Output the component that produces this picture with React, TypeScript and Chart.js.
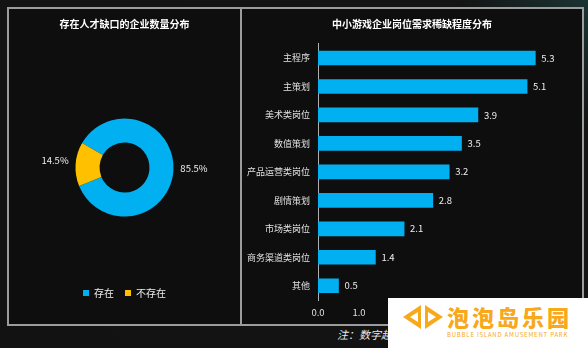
import React, { useEffect, useRef } from "react";
import { Chart, registerables } from "chart.js";

Chart.register(...registerables);

const FONT = '"Noto Sans CJK SC", "Noto Sans", sans-serif';

const leftTitle = "存在人才缺口的企业数量分布";
const pieLabels = ["存在", "不存在"];
const pieValues = [85.5, 14.5];
const pieColors = ["#00b0f0", "#ffc000"];

const rightTitle = "中小游戏企业岗位需求稀缺程度分布";
const barCategories = [
  "主程序",
  "主策划",
  "美术类岗位",
  "数值策划",
  "产品运营类岗位",
  "剧情策划",
  "市场类岗位",
  "商务渠道类岗位",
  "其他",
];
const barValues = [5.3, 5.1, 3.9, 3.5, 3.2, 2.8, 2.1, 1.4, 0.5];
const xTickMax = 6;
const barColor = "#00b0f0";

const noteText = "注：数字越大表示岗位越稀缺";
const brandName = "泡泡岛乐园";
const brandSub = "BUBBLE ISLAND AMUSEMENT PARK";

const pieLabelPlugin = {
  id: "pieLabels",
  afterDatasetsDraw(chart: any) {
    const ctx = chart.ctx;
    const meta = chart.getDatasetMeta(0);
    ctx.save();
    ctx.font = `9.5px ${FONT}`;
    ctx.fillStyle = "#eeeeee";
    ctx.textBaseline = "middle";
    meta.data.forEach((arc: any, i: number) => {
      const p = arc.getProps(["x", "y", "startAngle", "endAngle", "outerRadius"], true);
      const mid = (p.startAngle + p.endAngle) / 2;
      const r = p.outerRadius + 7;
      const lx = p.x + Math.cos(mid) * r;
      const ly = p.y + Math.sin(mid) * r;
      ctx.textAlign = Math.cos(mid) >= 0 ? "left" : "right";
      ctx.fillText(pieValues[i].toFixed(1) + "%", lx, ly - 3);
    });
    ctx.restore();
  },
};

const barLabelPlugin = {
  id: "barLabels",
  afterDatasetsDraw(chart: any) {
    const ctx = chart.ctx;
    const meta = chart.getDatasetMeta(0);
    ctx.save();
    ctx.font = `9.5px ${FONT}`;
    ctx.fillStyle = "#eeeeee";
    ctx.textBaseline = "middle";
    ctx.textAlign = "left";
    meta.data.forEach((bar: any, i: number) => {
      const p = bar.getProps(["x", "y"], true);
      ctx.fillText(barValues[i].toFixed(1), p.x + 6, p.y);
    });
    ctx.restore();
  },
};

const centerTitlePlugin = {
  id: "centerTitle",
  afterDraw(chart: any) {
    const ctx = chart.ctx;
    ctx.save();
    ctx.font = `bold 10px ${FONT}`;
    ctx.fillStyle = "#ffffff";
    ctx.textAlign = "center";
    ctx.textBaseline = "middle";
    ctx.fillText(rightTitle, chart.width / 2, 15);
    ctx.restore();
  },
};

function DonutChart() {
  const ref = useRef<HTMLCanvasElement>(null);
  useEffect(() => {
    if (!ref.current) return;
    const chart = new Chart(ref.current, {
      type: "doughnut",
      data: {
        labels: pieLabels,
        datasets: [
          {
            data: pieValues,
            backgroundColor: pieColors,
            borderWidth: 0,
          },
        ],
      },
      options: {
        responsive: false,
        animation: false,
        rotation: 300,
        radius: 49,
        cutout: "51%",
        layout: { padding: { top: 0, bottom: 16, left: 0, right: 0 } },
        plugins: {
          title: {
            display: true,
            text: leftTitle,
            color: "#ffffff",
            font: { family: FONT, size: 10, weight: "bold" },
            padding: { top: 9, bottom: 28 },
          },
          legend: {
            display: true,
            position: "bottom",
            labels: {
              color: "#eeeeee",
              font: { family: FONT, size: 10 },
              boxWidth: 6,
              boxHeight: 6,
              padding: 11,
            },
          },
          tooltip: { enabled: false },
        },
      } as any,
      plugins: [pieLabelPlugin],
    });
    return () => chart.destroy();
  }, []);
  return <canvas ref={ref} width={231} height={315} style={{ width: 231, height: 315, display: "block" }} />;
}

function BarChart() {
  const ref = useRef<HTMLCanvasElement>(null);
  useEffect(() => {
    if (!ref.current) return;
    const chart = new Chart(ref.current, {
      type: "bar",
      data: {
        labels: barCategories,
        datasets: [
          {
            data: barValues,
            backgroundColor: barColor,
            borderWidth: 0,
            barThickness: 14,
          },
        ],
      },
      options: {
        responsive: false,
        animation: false,
        indexAxis: "y",
        layout: { padding: { top: 34.75, bottom: 0, left: 0, right: 18 } },
        scales: {
          x: {
            min: 0,
            max: xTickMax,
            grid: { display: false, drawTicks: false },
            border: { display: false },
            ticks: {
              stepSize: 1,
              color: "#e0e0e0",
              font: { family: FONT, size: 9.5 },
              padding: 7,
              callback: (v: any) => Number(v).toFixed(1),
            },
            afterFit: (s: any) => {
              s.height = 24;
            },
          },
          y: {
            grid: { display: false, drawTicks: false },
            border: { display: true, color: "#b0b0b0", width: 1 },
            ticks: {
              color: "#e0e0e0",
              font: { family: FONT, size: 9 },
              padding: 8,
            },
            afterFit: (s: any) => {
              s.width = 76;
            },
          },
        },
        plugins: {
          title: { display: false },
          legend: { display: false },
          tooltip: { enabled: false },
        },
      } as any,
      plugins: [barLabelPlugin, centerTitlePlugin],
    });
    return () => chart.destroy();
  }, []);
  return <canvas ref={ref} width={340} height={315} style={{ width: 340, height: 315, display: "block" }} />;
}

export default function App() {
  return (
    <div
      style={{
        position: "absolute",
        left: 0,
        top: 0,
        width: 588,
        height: 348,
        overflow: "hidden",
        background: "linear-gradient(225deg, #1c3434 0px, #141414 90px, #121212 100%)",
        fontFamily: FONT,
      }}
    >
      <div
        style={{
          position: "absolute",
          left: 7,
          top: 7,
          width: 573,
          height: 315,
          border: "2px solid #9c9c9c",
          background: "#0e0e0e",
        }}
      />
      <div style={{ position: "absolute", left: 240, top: 9, width: 2, height: 315, background: "#9c9c9c" }} />
      <div style={{ position: "absolute", left: 9, top: 9 }}>
        <DonutChart />
      </div>
      <div style={{ position: "absolute", left: 242, top: 9 }}>
        <BarChart />
      </div>
      <div
        style={{
          position: "absolute",
          left: 337,
          top: 326,
          fontSize: 11,
          lineHeight: "16px",
          fontStyle: "italic",
          color: "#e8e8e8",
          whiteSpace: "nowrap",
        }}
      >
        {noteText}
      </div>
      <div
        style={{
          position: "absolute",
          left: 388,
          top: 298,
          width: 200,
          height: 50,
          background: "#ffffff",
        }}
      >
        <svg width={44} height={30} style={{ position: "absolute", left: 13, top: 4 }}>
          <polygon points="2,15 20,3 20,27" fill="#f7a81b" />
          <polygon points="42,15 24,3 24,27" fill="#f7a81b" />
          <polygon points="9,15 17,10 17,20" fill="#ffffff" />
          <polygon points="35,15 27,10 27,20" fill="#ffffff" />
        </svg>
        <div
          style={{
            position: "absolute",
            left: 59,
            top: 5,
            fontSize: 22,
            lineHeight: "26px",
            fontWeight: 900,
            color: "#f7a81b",
            letterSpacing: 3,
            whiteSpace: "nowrap",
          }}
        >
          {brandName}
        </div>
        <div
          style={{
            position: "absolute",
            left: 59,
            top: 33,
            fontSize: 6,
            lineHeight: "7px",
            color: "#f7a81b",
            letterSpacing: 0.8,
            whiteSpace: "nowrap",
          }}
        >
          {brandSub}
        </div>
      </div>
    </div>
  );
}
